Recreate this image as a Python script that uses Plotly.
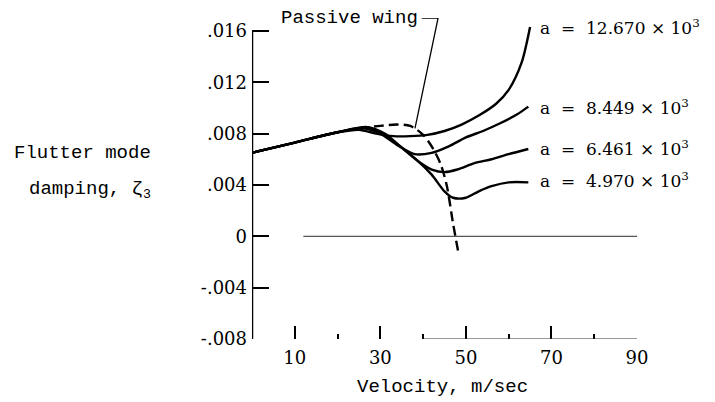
import plotly.graph_objects as go

# ---- data ----
v_a12670 = [0, 10, 20, 25, 29, 33, 37, 41, 45, 49, 53, 57, 60, 63, 65]
z_a12670 = [.0065, .0073, .0081, .0083, .0080, .0078, .0078, .0079, .0082, .0087, .0094, .0103, .0114, .0135, .0163]

v_a8449 = [0, 10, 20, 26, 30, 34, 38, 42, 46, 50, 54, 58, 62, 64.6]
z_a8449 = [.0065, .0073, .0081, .0084, .0080, .0071, .0064, .0065, .0070, .0077, .0082, .0088, .0095, .0101]

v_a6461 = [0, 10, 20, 27, 31, 35, 39, 42, 45, 48, 52, 56, 60, 64.6]
z_a6461 = [.0065, .0073, .0081, .0085, .0080, .0069, .0058, .0052, .0050, .0052, .0057, .0060, .0064, .0068]

v_a4970 = [0, 10, 20, 27, 31, 35, 39, 42, 45, 47, 50, 53, 56, 60, 64.6]
z_a4970 = [.0065, .0073, .0081, .0085, .0079, .0069, .0058, .0048, .0035, .0030, .0030, .0035, .0039, .0042, .0042]

v_passive = [25, 30, 34, 37, 40, 42, 44, 45.5, 47, 48.2]
z_passive = [.0084, .0086, .0087, .0086, .0079, .0070, .0057, .0040, .0010, -.0012]

v_zero = [12, 90]
z_zero = [0, 0]

curve_labels = ["a  =  12.670 × 10<sup>3</sup>", "a  =  8.449 × 10<sup>3</sup>",
                "a  =  6.461 × 10<sup>3</sup>", "a  =  4.970 × 10<sup>3</sup>"]
label_y = [.0163, .0101, .0069, .0044]

y_tickvals = [.016, .012, .008, .004, 0, -.004, -.008]
y_ticktext = [".016", ".012", ".008", ".004", "0", "-.004", "-.008"]
x_tickvals = [10, 30, 50, 70, 90]

SERIF = "DejaVu Serif"
MONO = "Liberation Mono"

fig = go.Figure()
for xs, ys in [(v_a12670, z_a12670), (v_a8449, z_a8449), (v_a6461, z_a6461), (v_a4970, z_a4970)]:
    fig.add_trace(go.Scatter(x=xs, y=ys, mode="lines",
                             line=dict(color="black", width=2.4, shape="spline", smoothing=0.8),
                             showlegend=False, hoverinfo="skip"))
fig.add_trace(go.Scatter(x=v_passive, y=z_passive, mode="lines",
                         line=dict(color="black", width=2.4, dash="10px,5px", shape="spline", smoothing=0.8),
                         showlegend=False, hoverinfo="skip"))
fig.add_trace(go.Scatter(x=v_zero, y=z_zero, mode="lines",
                         line=dict(color="#555555", width=1.3),
                         showlegend=False, hoverinfo="skip"))

annotations = []
for txt, yv in zip(curve_labels, label_y):
    annotations.append(dict(x=66.9, y=yv, xref="x", yref="y", text=txt, showarrow=False,
                            xanchor="left", yanchor="middle",
                            font=dict(family=SERIF, size=17, color="black")))
annotations.append(dict(x=39.3, y=.0170, xref="x", yref="y", text="Passive wing", showarrow=False,
                        xanchor="right", yanchor="middle",
                        font=dict(family=MONO, size=19, color="black")))
annotations.append(dict(x=-0.258, y=0.579, xref="paper", yref="paper", text="Flutter mode",
                        showarrow=False, xanchor="right", yanchor="middle",
                        font=dict(family=MONO, size=19, color="black")))
annotations.append(dict(x=-0.258, y=0.464, xref="paper", yref="paper", text="damping, ζ<sub>3</sub>",
                        showarrow=False, xanchor="right", yanchor="middle",
                        font=dict(family=MONO, size=19, color="black")))
annotations.append(dict(x=0.496, y=-0.15, xref="paper", yref="paper", text="Velocity, m/sec",
                        showarrow=False, xanchor="center", yanchor="middle",
                        font=dict(family=MONO, size=19, color="black")))

shapes = [
    dict(type="line", xref="x", yref="y", x0=0, x1=0, y0=-.008, y1=.016,
         line=dict(color="black", width=2.5)),
    dict(type="line", xref="x", yref="y", x0=40, x1=90, y0=-.008, y1=-.008,
         line=dict(color="#333333", width=1.2)),
    dict(type="path", xref="x", yref="y", path="M 39.7,0.0170 L 43.5,0.0170 L 38.1,0.0084",
         line=dict(color="black", width=1.3)),
]

fig.update_layout(
    width=707, height=394,
    margin=dict(l=244, r=78, t=10, b=63),
    paper_bgcolor="white", plot_bgcolor="white",
    annotations=annotations, shapes=shapes,
    xaxis=dict(range=[0, 90], showgrid=False, zeroline=False, showline=False,
               tickvals=x_tickvals, ticks="inside", ticklen=13, tickwidth=1.8, tickcolor="black",
               minor=dict(tickvals=[20, 40, 60, 80], ticks="inside", ticklen=5, tickwidth=1.8, tickcolor="black"),
               tickfont=dict(family=SERIF, size=18, color="black"), ticklabelstandoff=6),
    yaxis=dict(range=[-.008, .017], showgrid=False, zeroline=False, showline=False,
               tickvals=y_tickvals, ticktext=y_ticktext, ticks="inside", ticklen=17, tickwidth=1.8,
               tickcolor="black", tickfont=dict(family=SERIF, size=18, color="black"),
               ticklabelstandoff=4),
)

fig.write_html("out.html")
